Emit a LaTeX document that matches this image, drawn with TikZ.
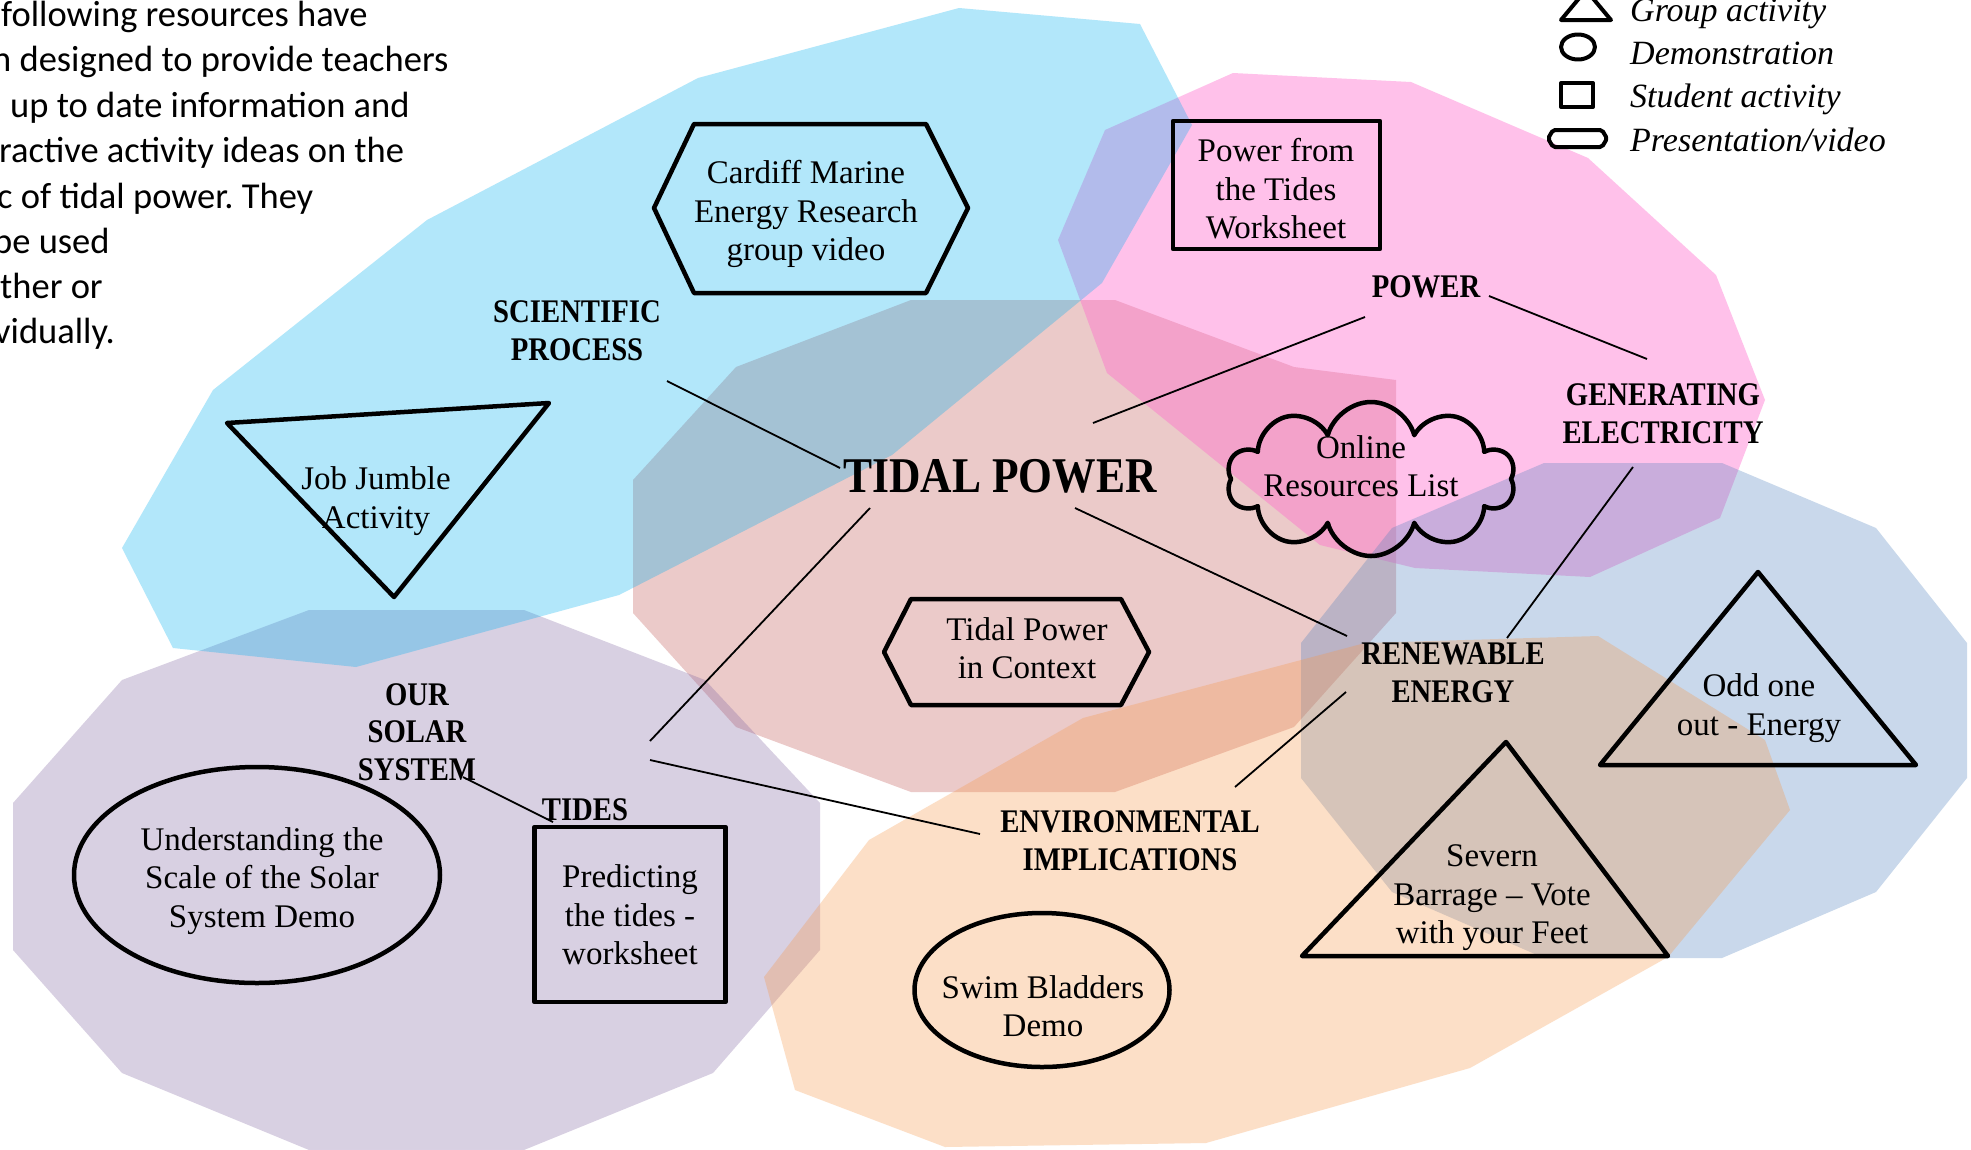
\documentclass[tikz,border=0pt]{standalone}
\usepackage{fontspec}
\setmainfont{Liberation Serif}
\newfontfamily\calib{Carlito}
\newfontfamily\lblfont[FakeStretch=0.87]{Liberation Serif}
\usetikzlibrary{shapes.symbols,shapes.geometric}
\definecolor{cyanC}{HTML}{00B0F0}
\definecolor{pinkC}{HTML}{FF66CC}
\definecolor{salC}{HTML}{C0504D}
\definecolor{purC}{HTML}{8064A2}
\definecolor{peaC}{HTML}{F79646}
\definecolor{bluC}{HTML}{4F81BD}
\frenchspacing
\begin{document}
\begin{tikzpicture}[x=1pt,y=-1pt,
  shp/.style={draw=black, line width=4.5pt, line join=round},
  conn/.style={draw=black, line width=1.8pt},
  txt/.style={inner sep=0pt, align=center, font=\fontsize{33}{38.5}\selectfont},
  lbl/.style={inner sep=0pt, align=center, font=\lblfont\bfseries\fontsize{33}{38}\selectfont},
  leg/.style={inner sep=0pt, anchor=base west, font=\itshape\fontsize{34}{40}\selectfont},
  intro/.style={inner sep=0pt, anchor=base west, font=\calib\fontsize{36.5}{44}\selectfont},
  icon/.style={draw=black, line width=4pt, line join=round}]
\useasboundingbox (0,0) rectangle (1971,1149);
\fill[white] (0,0) rectangle (1971,1149);
% coloured regions
\fill[salC, fill opacity=0.3] (633,480) -- (736,367) -- (911,300) -- (1115,300) -- (1294,367) -- (1396,380) -- (1396,613) -- (1294,727) -- (1115,792) -- (911,792) -- (736,727) -- (633,613) -- cycle;
\fill[pinkC, fill opacity=0.4] (1105,130) -- (1233,73) -- (1411,82) -- (1588,158) -- (1716,275) -- (1765,400) -- (1720,518) -- (1590,577) -- (1415,568) -- (1320,545) -- (1107,373) -- (1058,240) -- cycle;
\fill[bluC, fill opacity=0.3] (1544,463) -- (1722,463) -- (1876,528) -- (1967,643) -- (1967,778) -- (1876,892) -- (1722,958) -- (1544,958) -- (1392,892) -- (1301,778) -- (1301,643) -- (1392,528) -- cycle;
\fill[purC, fill opacity=0.3] (309,610) -- (524,610) -- (705,680) -- (820,803) -- (820,950) -- (713,1073) -- (524,1150) -- (309,1150) -- (122,1073) -- (13,950) -- (13,803) -- (122,680) -- cycle;
\fill[peaC, fill opacity=0.3] (869,840) -- (1083,718) -- (1365,643) -- (1598,636) -- (1765,740) -- (1790,810) -- (1668,957) -- (1470,1068) -- (1206,1143) -- (945,1147) -- (795,1090) -- (764,977) -- cycle;
\fill[cyanC, fill opacity=0.3] (959,8) -- (1140,24) -- (1192,125) -- (1102,283) -- (892,455) -- (619,595) -- (356,667) -- (173,648) -- (122,548) -- (213,390) -- (427,220) -- (698,78) -- cycle;
% intro text
\node[intro] (i1) at (1,26) {following resources have};
\node[intro] (i2) at (-8,71) {n designed to provide teachers};
\node[intro] (i3) at (10,117) {up to date information and};
\node[intro] (i4) at (-1,162) {ractive activity ideas on the};
\node[intro] (i5) at (-3,208) {c of tidal power. They};
\node[intro] (i6) at (-7,253) {be used};
\node[intro] (i7) at (0,298) {ther or};
\node[intro] (i8) at (-6,343) {vidually.};
% legend
\draw[icon] (1561,20) -- (1611,20) -- (1586,-10) -- cycle;
\draw[icon] (1578,47) ellipse [x radius=17, y radius=12.5];
\draw[icon] (1561,83) rectangle (1593,107);
\draw[icon, rounded corners=2pt] (1548,138.5) -- (1553,130) -- (1602,130) -- (1607,138.5) -- (1602,147) -- (1553,147) -- cycle;
\node[leg] (l1) at (1630,21) {Group activity};
\node[leg] (l2) at (1630,64) {Demonstration};
\node[leg] (l3) at (1630,107) {Student activity};
\node[leg] (l4) at (1630,151) {Presentation/video};
% resource shapes
\draw[shp] (654,208) -- (694,124) -- (926,124) -- (968,208) -- (926,293) -- (694,293) -- cycle;
\node[txt] (cardiff) at (806,214) {Cardiff Marine\\Energy Research\\group video};
\node[shp, inner sep=0pt, minimum width=207pt, minimum height=128pt] (ptbox) at (1276.5,185) {};
\node[txt] (pt) at (1276,189) {Power from\\the Tides\\Worksheet};
\draw[shp] (227,423) -- (549,403) -- (394,597) -- cycle;
\node[txt] (job) at (376,501) {Job Jumble\\Activity};
\draw[shp] (884,652) -- (911,599) -- (1121,599) -- (1149,652) -- (1121,705) -- (911,705) -- cycle;
\node[txt] (ctx) at (1027,648) {Tidal Power\\in Context};
\node[cloud, cloud puffs=10, aspect=1.85, shp, inner sep=0pt, minimum width=288pt, minimum height=154pt] (cloud) at (1371,479) {};
\node[txt] (online) at (1361,466) {Online\\Resources List};
\draw[shp] (1758,572) -- (1916,765) -- (1600,765) -- cycle;
\node[txt] (odd) at (1759,708) {Odd one\\out - Energy};
\draw[shp] (1506,742) -- (1668,956) -- (1302,956) -- cycle;
\node[txt] (severn) at (1492,898) {Severn\\Barrage – Vote\\with your Feet};
\node[ellipse, shp, inner sep=0pt, minimum width=366pt, minimum height=216pt] (scale) at (257,875) {};
\node[txt] (scaletxt) at (262,881) {Understanding the\\Scale of the Solar\\System Demo};
\node[shp, inner sep=0pt, minimum width=191pt, minimum height=175pt] (predbox) at (630,914.5) {};
\node[txt] (pred) at (630,915) {Predicting\\the tides -\\worksheet};
\node[ellipse, shp, inner sep=0pt, minimum width=255pt, minimum height=154pt] (swim) at (1042,990) {};
\node[txt] (swimtxt) at (1043,1006) {Swim Bladders\\Demo};
% topic labels
\node[lbl] (sci) at (577,331) {SCIENTIFIC\\PROCESS};
\node[lbl, font=\lblfont\bfseries\fontsize{50}{56}\selectfont] (tidal) at (1000,476) {TIDAL POWER};
\node[lbl] (power) at (1426,287) {POWER};
\node[lbl] (gen) at (1663,414) {GENERATING\\ELECTRICITY};
\node[lbl] (ren) at (1453,673) {RENEWABLE\\ENERGY};
\node[lbl] (env) at (1130,841) {ENVIRONMENTAL\\IMPLICATIONS};
\node[lbl, font=\lblfont\bfseries\fontsize{33}{37.5}\selectfont] (oss) at (417,732) {OUR\\SOLAR\\SYSTEM};
\node[lbl] (tides) at (585,810) {TIDES};
% connector ends
\coordinate (c1a) at (667,381); \coordinate (c1b) at (840,468);
\coordinate (c2a) at (1093,423); \coordinate (c2b) at (1365,317);
\coordinate (c3a) at (1489,296); \coordinate (c3b) at (1647,359);
\coordinate (c4a) at (1633,467); \coordinate (c4b) at (1507,638);
\coordinate (c5a) at (1075,508); \coordinate (c5b) at (1347,636);
\coordinate (c6a) at (1346,692); \coordinate (c6b) at (1235,787);
\coordinate (c7a) at (870,508); \coordinate (c7b) at (650,741);
\coordinate (c8a) at (650,760); \coordinate (c8b) at (980,834);
\coordinate (c9a) at (463,777); \coordinate (c9b) at (553,822);
\draw[conn] (c1a) -- (c1b);
\draw[conn] (c2a) -- (c2b);
\draw[conn] (c3a) -- (c3b);
\draw[conn] (c4a) -- (c4b);
\draw[conn] (c5a) -- (c5b);
\draw[conn] (c6a) -- (c6b);
\draw[conn] (c7a) -- (c7b);
\draw[conn] (c8a) -- (c8b);
\draw[conn] (c9a) -- (c9b);
\end{tikzpicture}
\end{document}
